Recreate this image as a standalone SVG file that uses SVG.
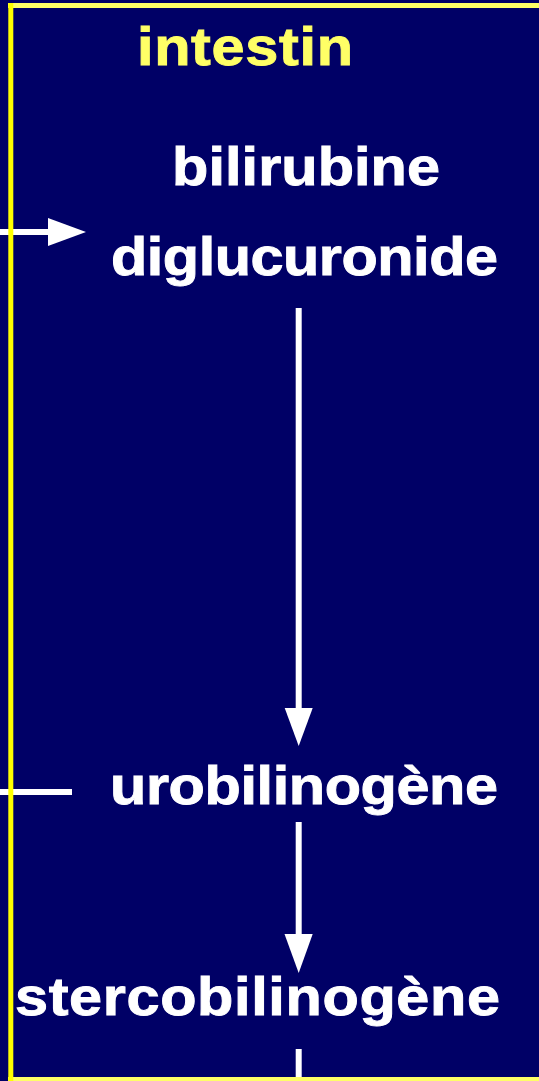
<svg xmlns="http://www.w3.org/2000/svg" width="539" height="1081" viewBox="0 0 539 1081">
<style>
.t{font-family:"Liberation Sans",Arial,sans-serif;font-weight:bold;font-size:54px;fill:#ffffff;stroke:#ffffff;stroke-width:0.9}
.y{fill:#ffff66;stroke:#ffff66}
.ln{stroke:#ffffff;stroke-width:6;fill:none}
.hd{fill:#ffffff}
</style>
<rect x="0" y="0" width="539" height="1081" fill="#000066"/>
<g id="connectors">
<line class="ln" x1="0" y1="232" x2="50" y2="232"/>
<polygon class="hd" points="48,218 86,232 48,246"/>
<line class="ln" x1="298.7" y1="308" x2="298.7" y2="710"/>
<polygon class="hd" points="284.7,708 312.7,708 298.7,746"/>
<line class="ln" x1="0" y1="792" x2="72" y2="792"/>
<line class="ln" x1="298.7" y1="822" x2="298.7" y2="936"/>
<polygon class="hd" points="284.5,934 312.7,934 298.7,973"/>
<line class="ln" x1="298.7" y1="1049" x2="298.7" y2="1081"/>
</g>
<g id="border">
<line x1="8" y1="5.5" x2="545" y2="5.5" stroke="#ffff66" stroke-width="5"/>
<line x1="8" y1="1079.5" x2="545" y2="1079.5" stroke="#ffff66" stroke-width="5"/>
<line x1="10.8" y1="3" x2="10.8" y2="1081" stroke="#ffff00" stroke-width="5"/>
</g>
<g id="intestin" transform="scale(1.1 1)"><text class="t y" x="124.5" y="65" textLength="196.4" lengthAdjust="spacing">intestin</text></g>
<g id="bilirubine" transform="scale(1.1 1)"><text class="t" x="156.4" y="185" textLength="243.6" lengthAdjust="spacing">bilirubine</text><text class="t" x="100.9" y="275" textLength="351.8" lengthAdjust="spacing">diglucuronide</text></g>
<g id="urobilinogene" transform="scale(1.1 1)"><text class="t" x="100" y="804" textLength="352.7" lengthAdjust="spacing">urobilinogène</text></g>
<g id="stercobilinogene" transform="scale(1.1 1)"><text class="t" x="13.6" y="1015" textLength="440.9" lengthAdjust="spacing">stercobilinogène</text></g>
</svg>
